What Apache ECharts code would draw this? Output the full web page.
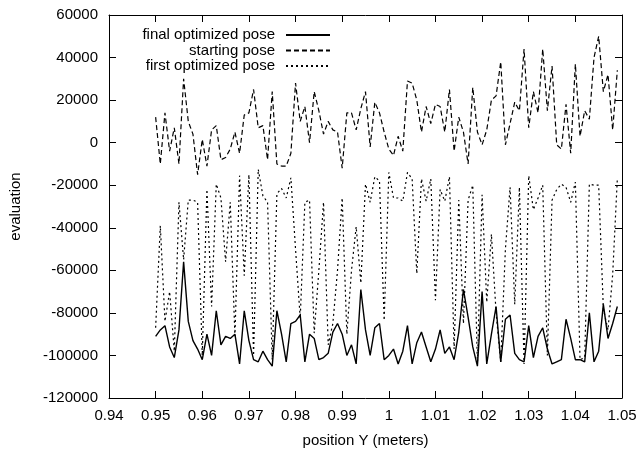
<!DOCTYPE html>
<html>
<head>
<meta charset="utf-8">
<script src="https://cdn.jsdelivr.net/npm/echarts@6/dist/echarts.min.js"></script>
<style>
html,body{margin:0;padding:0;background:#fff;}
#chart{width:642px;height:453px;}
</style>
</head>
<body>
<div id="chart"></div>
<script>
// sample positions (meters): 0.950 ... 1.049, step 0.001
const positions = [];
for (let i = 0; i < 100; i++) positions.push(+(0.95 + i * 0.001).toFixed(3));

const seriesNames = ['final optimized pose', 'starting pose', 'first optimized pose'];

const finalPose = [
  -91000,-88000,-86000,-96000,-101000,-88000,-56000,-84000,-93000,-97000,
  -102000,-90000,-100000,-79000,-95000,-91000,-92000,-90000,-104000,-79000,
  -93000,-102000,-103000,-98000,-102000,-105000,-79000,-90000,-103000,-85000,
  -84000,-81000,-103000,-90000,-92000,-102000,-101000,-99000,-89000,-85000,
  -90000,-100000,-95000,-104000,-69000,-88000,-100000,-87000,-85000,-102000,
  -100000,-97000,-104000,-98000,-86000,-104000,-94000,-89000,-96000,-103000,
  -97000,-88000,-99000,-96000,-102000,-89000,-69000,-82000,-96000,-105000,
  -70000,-104000,-90000,-77000,-103000,-83000,-81000,-99000,-102000,-103000,
  -86000,-101000,-91000,-87000,-97000,-104000,-103000,-102000,-83000,-92000,
  -102000,-102000,-103000,-80000,-103000,-98000,-76000,-92000,-85000,-77000
];

const startingPose = [
  12000,-10000,14000,-4000,7000,-10000,30000,10000,4000,-15000,
  1500,-11000,6000,8000,-8000,-7000,-3000,5000,-5000,13000,
  14000,25000,7000,8000,-8000,24000,-10000,-11000,-11000,-5000,
  28000,10000,17000,0,24000,15000,4000,10000,6000,5000,
  -12000,14000,14000,6000,16000,24000,-2000,19000,14000,5000,
  -3000,-6000,3000,-4000,29000,28000,20000,5000,17000,9000,
  18000,17000,5000,25000,-4000,12000,5000,-10000,26000,5000,
  -1000,6000,20000,22000,38000,-1000,9000,19000,15000,44000,
  7000,24000,14000,44000,15000,36000,-1000,-3000,18000,-5000,
  37000,3000,15000,11000,40000,50000,24000,32000,6000,34000
];

const firstPose = [
  -87000,-39000,-84000,-70000,-98000,-28000,-55000,-27000,-27000,-28000,
  -100000,-22000,-77000,-19500,-26000,-56000,-28000,-91000,-15500,-62500,
  -15000,-100000,-12500,-25000,-28000,-102000,-24000,-21500,-26000,-16500,
  -50000,-82500,-28000,-27000,-89500,-60000,-28000,-95000,-85000,-60000,
  -26000,-90000,-60000,-39500,-66000,-19500,-28000,-16000,-18000,-83500,
  -14000,-26000,-26000,-27500,-14000,-17000,-61500,-17000,-27500,-17000,
  -74000,-22000,-27500,-16000,-97000,-27000,-85000,-27000,-20000,-104000,
  -24500,-75000,-43000,-80000,-103000,-50000,-21000,-76000,-21000,-104000,
  -15500,-31500,-26000,-20000,-100000,-27000,-22000,-19500,-21000,-28000,
  -18500,-102000,-101000,-19500,-20000,-20000,-78000,-88000,-62000,-17000
];

const xTickMin = 0.94, xTickMax = 1.05, xTickStep = 0.01;
const yTickMin = -120000, yTickMax = 60000, yTickStep = 20000;

const FONT = "'Liberation Sans', Arial, Helvetica, sans-serif";
const FS = 15;
const pair = vals => vals.map((v, i) => [positions[i], v]);

const chart = echarts.init(document.getElementById('chart'), null, {renderer: 'canvas'});

const legendBase = {
  orient: 'vertical',
  align: 'right',
  right: 311,
  padding: 0,
  itemWidth: 44,
  itemHeight: 10,
  selectedMode: false,
  itemStyle: {opacity: 0, borderWidth: 0},
  textStyle: {fontFamily: FONT, fontSize: FS, color: '#000', padding: [0, 6, 0, 0]}
};

const axisCommon = {
  axisLine: {show: true, onZero: false, lineStyle: {color: '#000', width: 1}},
  axisTick: {show: true, inside: true, length: 7, lineStyle: {color: '#000', width: 1}},
  splitLine: {show: false}
};

chart.setOption({
  animation: false,
  backgroundColor: '#fff',
  grid: {left: 108, right: 20, top: 15, bottom: 49, containLabel: false},
  legend: [
    Object.assign({}, legendBase, {data: [seriesNames[0]], top: 27.5}),
    Object.assign({}, legendBase, {data: [seriesNames[1]], top: 43}),
    Object.assign({}, legendBase, {data: [seriesNames[2]], top: 58.5})
  ],
  xAxis: [
    Object.assign({}, axisCommon, {
      type: 'value', position: 'bottom', min: xTickMin, max: xTickMax, interval: xTickStep,
      name: 'position Y (meters)', nameLocation: 'middle', nameGap: 35,
      nameTextStyle: {fontFamily: FONT, fontSize: FS, color: '#000'},
      axisLabel: {show: true, margin: 10, fontFamily: FONT, fontSize: FS, color: '#000',
        formatter: v => String(parseFloat(v.toFixed(2)))}
    }),
    Object.assign({}, axisCommon, {
      type: 'value', position: 'top', min: xTickMin, max: xTickMax, interval: xTickStep,
      axisLabel: {show: false}
    })
  ],
  yAxis: [
    Object.assign({}, axisCommon, {
      type: 'value', position: 'left', min: yTickMin, max: yTickMax, interval: yTickStep,
      name: 'evaluation', nameLocation: 'middle', nameGap: 86, nameRotate: 90,
      nameTextStyle: {fontFamily: FONT, fontSize: FS, color: '#000'},
      axisLabel: {show: true, margin: 11, fontFamily: FONT, fontSize: FS, color: '#000',
        formatter: v => String(v)}
    }),
    Object.assign({}, axisCommon, {
      type: 'value', position: 'right', min: yTickMin, max: yTickMax, interval: yTickStep,
      axisLabel: {show: false}
    })
  ],
  series: [
    {name: seriesNames[0], type: 'line', data: pair(finalPose), symbol: 'none', showSymbol: false,
     lineStyle: {color: '#000', width: 1.4, type: 'solid'}, itemStyle: {color: '#000'}},
    {name: seriesNames[1], type: 'line', data: pair(startingPose), symbol: 'none', showSymbol: false,
     lineStyle: {color: '#000', width: 1.2, type: [5, 3]}, itemStyle: {color: '#000'}},
    {name: seriesNames[2], type: 'line', data: pair(firstPose), symbol: 'none', showSymbol: false,
     lineStyle: {color: '#000', width: 1.2, type: [2, 3]}, itemStyle: {color: '#000'}}
  ]
});
</script>
</body>
</html>
